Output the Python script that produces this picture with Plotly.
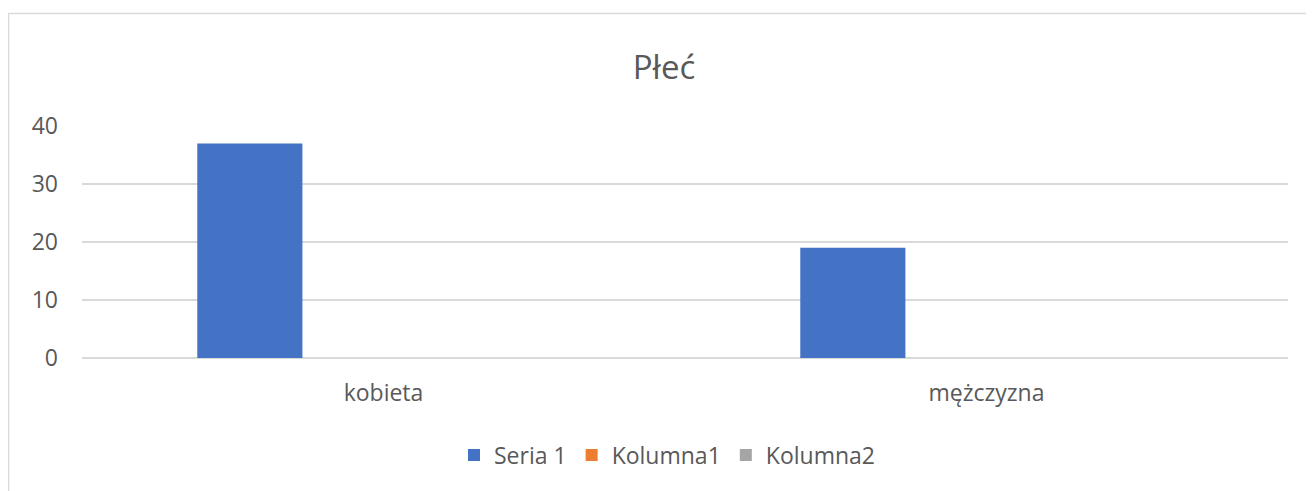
import plotly.graph_objects as go

categories = ["kobieta", "mężczyzna"]
seria1 = [37, 19]
kolumna1 = [0, 0]
kolumna2 = [0, 0]
series_names = ["Seria 1", "Kolumna1", "Kolumna2"]
colors = ["#4472C4", "#ED7D31", "#A5A5A5"]
title_text = "Płeć"
y_ticks = [0, 10, 20, 30, 40]

# page has an 8px body margin; figure coordinates = page coordinates - 8
OFF = 8
W, H = 1314 - OFF, 491 - OFF
L, R, T, B = 82 - OFF, 26, 126 - OFF, 133
pw = W - L - R
ph = H - T - B

fig = go.Figure()
for name, vals, col in zip(series_names, [seria1, kolumna1, kolumna2], colors):
    fig.add_trace(go.Bar(x=categories, y=vals, name=name,
                         marker=dict(color=col, line=dict(width=0))))

font_family = "Open Sans, Noto Sans, sans-serif"
gray = "#595959"
grid = "#D9D9D9"

def px_x(px):
    return (px - OFF - L) / pw

def px_y(py):
    return (H - B - (py - OFF)) / ph

fig.update_layout(
    width=W, height=H,
    margin=dict(l=L, r=R, t=T, b=B),
    paper_bgcolor="white", plot_bgcolor="white",
    barmode="group", bargap=0.335, bargroupgap=0.2135,
    title=dict(text=title_text, x=(664 - OFF) / W, xanchor="center",
               y=1 - (67 - OFF) / H, yanchor="middle",
               font=dict(family=font_family, size=33, color=gray)),
    font=dict(family=font_family, size=23, color=gray),
    showlegend=True,
    legend=dict(orientation="h", x=px_x(667), xanchor="center",
                y=px_y(455), yanchor="middle",
                font=dict(family=font_family, size=23, color=gray),
                itemclick=False),
    xaxis=dict(showgrid=False, showline=False, zeroline=False,
               ticks="", ticklabelstandoff=19,
               tickfont=dict(family=font_family, size=23, color=gray)),
    yaxis=dict(range=[0, 40], tickvals=y_ticks, showgrid=True,
               gridcolor=grid, gridwidth=2, zeroline=True,
               zerolinecolor=grid, zerolinewidth=2, showline=False,
               ticks="", ticklabelstandoff=23,
               tickfont=dict(family=font_family, size=23, color=gray)),
    shapes=[dict(type="rect", xref="paper", yref="paper",
                 x0=px_x(8.5), x1=px_x(1340), y0=px_y(520), y1=px_y(13.5),
                 line=dict(color=grid, width=1.5), fillcolor="rgba(0,0,0,0)",
                 layer="below")],
)

fig.write_html("out.html")
